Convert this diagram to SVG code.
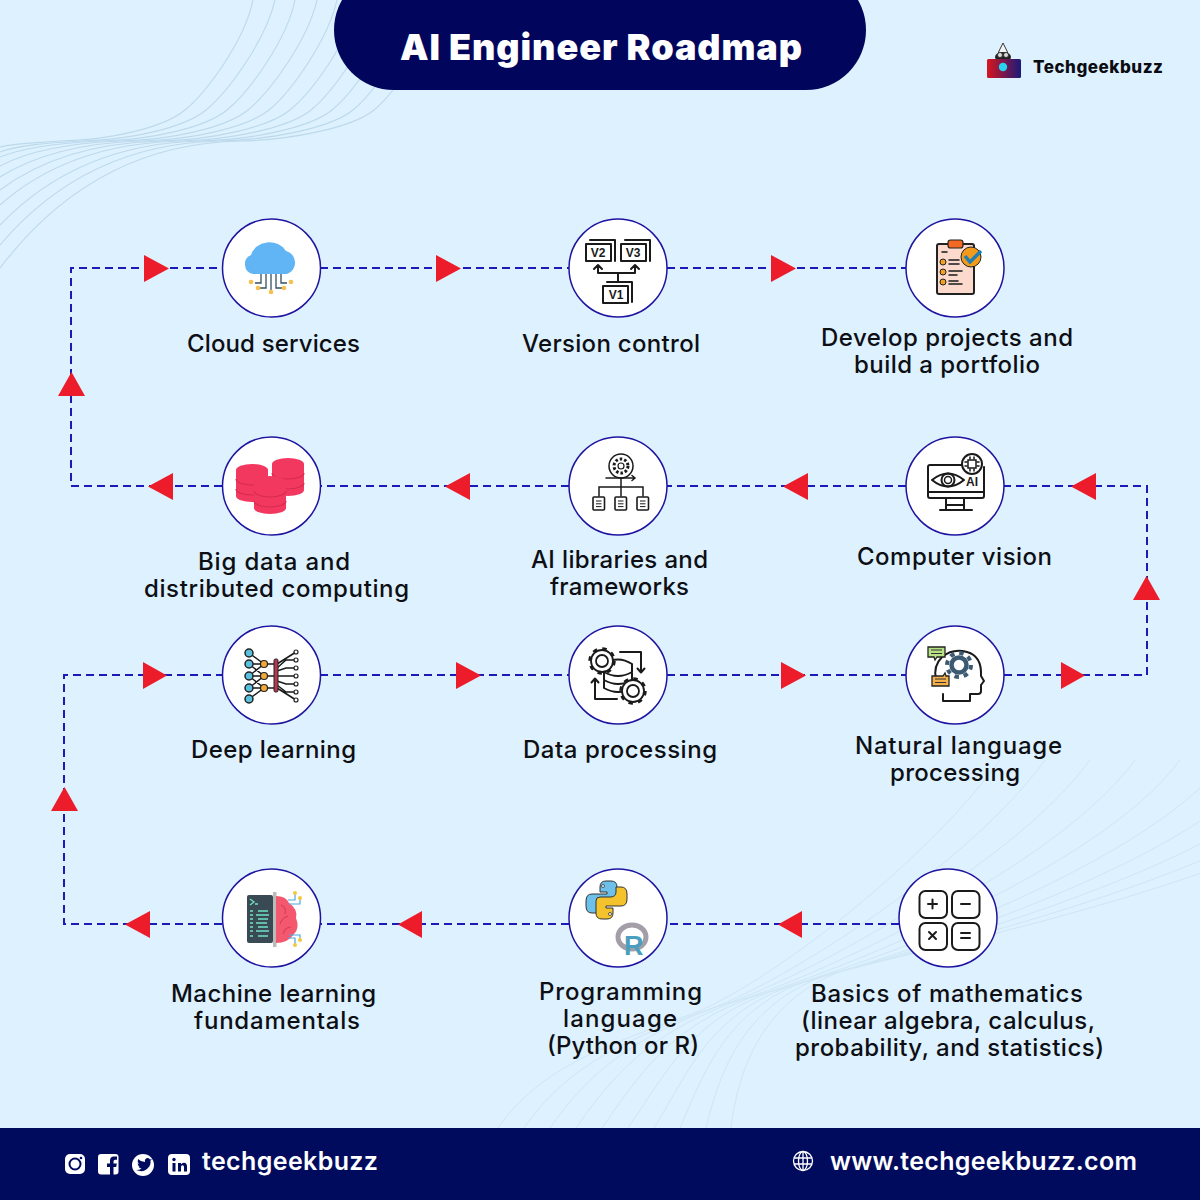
<svg xmlns="http://www.w3.org/2000/svg" width="1200" height="1200" viewBox="0 0 1200 1200">
<style>
.lbl{font-family:"Inter","Noto Sans","Liberation Sans",sans-serif;font-size:24px;font-weight:500;fill:#0d0f14}
.wave1{fill:none;stroke:#bdd9ec;stroke-width:1.1}
.wave2{fill:none;stroke:#cfe6f5;stroke-width:1}
.ring{fill:#fff;stroke:#1f14a0;stroke-width:1.500}
.edge{fill:none;stroke:#1a1ab8;stroke-width:2;stroke-dasharray:8 5}
.arr{fill:#ec1c2a}
.ink{fill:none;stroke:#1a1a1a;stroke-width:2;stroke-linecap:round;stroke-linejoin:round}
.thin{fill:none;stroke:#1a1a1a;stroke-width:1.5;stroke-linecap:round}
.ver{font-family:"Liberation Sans",sans-serif;font-size:12px;font-weight:700;fill:#1a1a1a;text-anchor:middle}
.foot{font-family:"Inter","Noto Sans",sans-serif;font-size:25px;font-weight:600;fill:#fff}
</style>
<defs>
<linearGradient id="lg" x1="0" x2="1"><stop offset="0" stop-color="#d8151f"/><stop offset="1" stop-color="#1a1a7a"/></linearGradient>
<g id="cyl"><path d="M0,6 a16,6 0 0 1 32,0 v26 a16,6 0 0 1 -32,0 z" fill="#f2385f"/><path d="M0,15 a16,6 0 0 0 32,0 M0,25 a16,6 0 0 0 32,0" fill="none" stroke="#d92a50" stroke-width="1.2"/></g>
<g id="gear"><circle r="12.500" fill="none" stroke="#1a1a1a" stroke-width="2.500" stroke-dasharray="4.500 5.300"/><circle r="11" fill="#fff" stroke="#1a1a1a" stroke-width="1.800"/><circle r="6" fill="#fff" stroke="#1a1a1a" stroke-width="1.800"/></g>
<g id="doc"><rect x="0" y="0" width="11.500" height="13" rx="1" fill="#fff" stroke="#1a1a1a" stroke-width="1.600"/><path d="M3,4 h5.500 M3,6.800 h5.500 M3,9.600 h5.500" stroke="#1a1a1a" stroke-width="1"/></g>
</defs>
<rect width="1200" height="1200" fill="#ddf1fe"/>
<g id="waves">
<path class="wave1" d="M0,147 C15,143 35,143 60,141 C110,140 163,128 185,110 S245,40 253,0"/>
<path class="wave1" d="M0,152 C20,145 46,143 80,141 C130,140 184,128 206,110 S266,40 275,0"/>
<path class="wave1" d="M0,157 C25,147 58,143 100,141 C150,140 205,128 227,110 S287,40 295,0"/>
<path class="wave1" d="M0,166 C30,150 70,143 120,141 C170,140 226,128 248,110 S308,40 317,0"/>
<path class="wave1" d="M0,177 C35,155 81,143 140,141 C190,140 247,128 269,110 S328,40 337,0"/>
<path class="wave1" d="M0,190 C40,160 93,143 160,141 C210,140 268,128 290,110 S350,40 358,0"/>
<path class="wave1" d="M0,205 C45,165 104,143 180,141 C230,140 289,128 311,110 S370,40 379,0"/>
<path class="wave1" d="M0,225 C50,173 116,143 200,141 C250,140 310,128 332,110 S390,40 400,0"/>
<path class="wave1" d="M0,245 C55,180 128,143 220,141 C270,140 331,128 353,110 S410,40 420,0"/>
<path class="wave1" d="M0,268 C60,189 139,143 240,141 C290,140 352,128 374,110 S430,40 440,0"/>
<path class="wave2" d="M498,1128 C538,1070 600,1048 680,1018 C750,998 920,870 1000,760"/>
<path class="wave2" d="M524,1128 C564,1070 618,1043 698,1013 C768,993 965,870 1045,760"/>
<path class="wave2" d="M550,1128 C590,1070 636,1037 716,1007 C786,987 1010,870 1090,760"/>
<path class="wave2" d="M576,1128 C616,1070 654,1032 734,1002 C804,982 1055,870 1135,760"/>
<path class="wave2" d="M602,1128 C642,1070 672,1027 752,997 C822,977 1100,870 1180,760"/>
<path class="wave2" d="M628,1128 C668,1070 690,1022 770,992 C840,972 1145,870 1225,760"/>
<path class="wave2" d="M654,1128 C690,1070 708,1017 788,987 C858,967 1190,870 1270,760"/>
<path class="wave2" d="M680,1128 C705,1070 726,1011 806,981 C876,961 1235,870 1315,760"/>
<path class="wave2" d="M706,1128 C720,1070 744,1006 824,976 C894,956 1280,870 1360,760"/>
<path class="wave2" d="M731,1128 C738,1070 762,1001 842,971 C912,951 1325,870 1405,760"/>
</g>
<g id="header">
<rect x="334" y="-30" width="532" height="120" rx="60" fill="#01065c"/>
<text x="400" y="60" textLength="402" font-family="Inter,'Noto Sans',sans-serif" font-size="36" font-weight="900" fill="#fff">AI Engineer Roadmap</text>
</g>
<g id="logo">
<path d="M1003,43 l4,8 l2,6 h-12 l2,-6 z" fill="#f4f4f4" stroke="#333" stroke-width="1"/>
<ellipse cx="1003" cy="57" rx="8" ry="5" fill="#222"/>
<circle cx="1000" cy="55" r="2.500" fill="#ddd" stroke="#222" stroke-width=".8"/><circle cx="1006" cy="55" r="2.500" fill="#ddd" stroke="#222" stroke-width=".8"/>
<rect x="987" y="59" width="34" height="19" rx="1.500" fill="url(#lg)"/>
<circle cx="1003" cy="67" r="4.200" fill="#27d3ee"/>
<text x="1033" y="73" textLength="130" font-family="Inter,'Noto Sans',sans-serif" font-size="17" font-weight="800" fill="#0b0b12">Techgeekbuzz</text>
</g>
<g id="connectors">
<path class="edge" d="M899,924 H667"/>
<path class="edge" d="M569,924 H320"/>
<path class="edge" d="M222,924 H64 V675 H222"/>
<path class="edge" d="M320,675 H569"/>
<path class="edge" d="M667,675 H906"/>
<path class="edge" d="M1004,675 H1147 V486 H1004"/>
<path class="edge" d="M906,486 H667"/>
<path class="edge" d="M569,486 H320"/>
<path class="edge" d="M222,486 H71 V268 H222"/>
<path class="edge" d="M320,268 H569"/>
<path class="edge" d="M667,268 H906"/>
<polygon class="arr" points="144,255 144,282 169,268.500"/>
<polygon class="arr" points="436,255 436,282 461,268.500"/>
<polygon class="arr" points="771,255 771,282 796,268.500"/>
<polygon class="arr" points="1096,473 1096,500 1071,486.500"/>
<polygon class="arr" points="808,473 808,500 783,486.500"/>
<polygon class="arr" points="470,473 470,500 445,486.500"/>
<polygon class="arr" points="173,473 173,500 148,486.500"/>
<polygon class="arr" points="58,396 85,396 71.500,372"/>
<polygon class="arr" points="1133,600 1160,600 1146.500,576"/>
<polygon class="arr" points="143,662 143,689 167,675.500"/>
<polygon class="arr" points="456,662 456,689 481,675.500"/>
<polygon class="arr" points="781,662 781,689 806,675.500"/>
<polygon class="arr" points="1061,662 1061,689 1085,675.500"/>
<polygon class="arr" points="802,911 802,938 778,924.500"/>
<polygon class="arr" points="422,911 422,938 398,924.500"/>
<polygon class="arr" points="150,911 150,938 125,924.500"/>
<polygon class="arr" points="51,811 78,811 64.500,787"/>
</g>
<g id="node-cloud">
<circle class="ring" cx="271.500" cy="268" r="49"/>
<path d="M253,274 a10,10 0 0 1 -2,-19 a19,17 0 0 1 35,-4 a12,12 0 0 1 1,23 z" fill="#62b5f5"/>
<path d="M261,274 v9 h-6 M266,274 v14 h-7 M271,274 v17 M276,274 v14 h7 M281,274 v9 h6" fill="none" stroke="#35505f" stroke-width="1.300"/>
<g fill="#f5c04f"><circle cx="251" cy="282" r="2.300"/><circle cx="258" cy="288" r="2.300"/><circle cx="271" cy="292" r="2.300"/><circle cx="284" cy="288" r="2.300"/><circle cx="291" cy="282" r="2.300"/></g>
<text class="lbl" x="187" y="352" textLength="173">Cloud services</text>
</g>
<g id="node-version">
<circle class="ring" cx="618" cy="268" r="49"/>
<path class="ink" d="M590,240 h25 v21 M586,244 h25 v17 h-25 z"/>
<path class="ink" d="M625,240 h25 v21 M621,244 h25 v17 h-25 z"/>
<path class="ink" d="M607,282 h25 v20 M603,286 h25 v17 h-25 z"/>
<text class="ver" x="598" y="257">V2</text><text class="ver" x="633" y="257">V3</text><text class="ver" x="616" y="299">V1</text>
<path class="ink" d="M618,282 v-9 M598,265 v8 h37 v-8 M594,269 l4,-4 l4,4 M631,269 l4,-4 l4,4"/>
<text class="lbl" x="522" y="352" textLength="178">Version control</text>
</g>
<g id="node-projects">
<circle class="ring" cx="955" cy="268" r="49"/>
<rect x="937" y="244" width="37" height="50" rx="2" fill="#fbd9cc" stroke="#222" stroke-width="2"/>
<rect x="948" y="240" width="15" height="8" rx="2.500" fill="#f26a21" stroke="#222" stroke-width="1.200"/>
<circle cx="971" cy="257" r="10" fill="#f29a1a" stroke="#222" stroke-width="1"/>
<path d="M965,256 l5,6 l11,-11" fill="none" stroke="#1f7fb5" stroke-width="3.500"/>
<g fill="#f2a01f" stroke="#222" stroke-width="1"><circle cx="943" cy="262" r="3"/><circle cx="943" cy="272" r="3"/><circle cx="943" cy="282" r="3"/></g>
<path class="thin" d="M942,252 h5 M949,260 h10 M949,264 h10 M949,271 h13 M949,275 h8 M949,281 h9 M949,284 h13"/>
<text class="lbl" x="821" y="346" textLength="252">Develop projects and</text>
<text class="lbl" x="854" y="373" textLength="186">build a portfolio</text>
</g>
<g id="node-vision">
<circle class="ring" cx="955" cy="486" r="49"/>
<path class="ink" d="M962,465 h-32 a2,2 0 0 0 -2,2 v29 a2,2 0 0 0 2,2 h52 a2,2 0 0 0 2,-2 v-29 M928,492 h56 M946,498 v11 M964,498 v11 M940,510 h32 M946,505 h18"/>
<path class="ink" d="M932,480 q16,-13 32,0 q-16,13 -32,0 z"/>
<circle class="ink" cx="948" cy="480" r="6.500"/><circle class="thin" cx="948" cy="480" r="3.500"/>
<circle cx="972" cy="464" r="10" fill="#fff" stroke="#1a1a1a" stroke-width="2"/>
<rect x="968" y="460" width="8" height="8" fill="none" stroke="#1a1a1a" stroke-width="1.500"/>
<path class="thin" d="M970,457 v2 M974,457 v2 M970,469 v2 M974,469 v2 M965,462 h2 M965,466 h2 M977,462 h2 M977,466 h2"/>
<text class="ver" x="972" y="486">AI</text>
<text class="lbl" x="857" y="565" textLength="195">Computer vision</text>
</g>
<g id="node-libraries">
<circle class="ring" cx="618" cy="486" r="49"/>
<circle class="thin" cx="621" cy="466" r="12"/>
<circle cx="621" cy="466" r="7" fill="#fff" stroke="#1a1a1a" stroke-width="3" stroke-dasharray="2.500 2"/>
<circle cx="621" cy="466" r="3" fill="#fff" stroke="#1a1a1a" stroke-width="1.200"/>
<path class="thin" d="M606,478 h29 M632,475.500 l3,2.500 l-3,2.500 M621,478 v18 M599,496 v-9 h44 v9"/>
<use href="#doc" x="593" y="497"/><use href="#doc" x="615" y="497"/><use href="#doc" x="637" y="497"/>
<text class="lbl" x="531" y="568" textLength="177">AI libraries and</text>
<text class="lbl" x="550" y="595" textLength="139">frameworks</text>
</g>
<g id="node-bigdata">
<circle class="ring" cx="271.500" cy="486" r="49"/>
<use href="#cyl" x="272" y="458"/>
<use href="#cyl" x="236" y="464"/>
<use href="#cyl" x="254" y="476"/>
<text class="lbl" x="198" y="570" textLength="152">Big data and</text>
<text class="lbl" x="144" y="597" textLength="265">distributed computing</text>
</g>
<g id="node-deep">
<circle class="ring" cx="271.500" cy="675" r="49"/>
<path class="thin" d="M249,653 L264,664 M249,664 L264,664 M249,676 L264,664 M249,664 L264,676 M249,676 L264,676 M249,688 L264,676 M249,676 L264,688 M249,688 L264,688 M249,699 L264,688 M264,664 H275 M264,676 H275 M264,688 H275"/>
<path class="thin" d="M277,664 L296,652 M277,668 L286,660 H296 M277,671 L286,668 H296 M277,676 H296 M277,681 L286,684 H296 M277,685 L286,692 H296 M277,688 L296,700"/>
<g fill="#5bc0de" stroke="#222" stroke-width="1.500"><circle cx="249" cy="653" r="4"/><circle cx="249" cy="664" r="4"/><circle cx="249" cy="676" r="4"/><circle cx="249" cy="688" r="4"/><circle cx="249" cy="699" r="4"/></g>
<g fill="#f2a93b" stroke="#222" stroke-width="1.200"><circle cx="264" cy="664" r="3.500"/><circle cx="264" cy="676" r="3.500"/><circle cx="264" cy="688" r="3.500"/></g>
<rect x="274" y="659" width="4" height="33" rx="1.500" fill="#b5384f" stroke="#222" stroke-width="1"/>
<g fill="#fff" stroke="#222" stroke-width="1.200"><circle cx="296" cy="652" r="2"/><circle cx="296" cy="660" r="2"/><circle cx="296" cy="668" r="2"/><circle cx="296" cy="676" r="2"/><circle cx="296" cy="684" r="2"/><circle cx="296" cy="692" r="2"/><circle cx="296" cy="700" r="2"/></g>
<text class="lbl" x="191" y="758" textLength="165">Deep learning</text>
</g>
<g id="node-data">
<circle class="ring" cx="618" cy="675" r="49"/>
<path class="ink" d="M604,664 q14,-9 28,0 v24 q-14,8 -28,0 z M604,672 q14,8 28,0 M604,680 q14,8 28,0"/>
<path class="ink" d="M620,652 h21 v20 M637.500,668.500 l3.500,4 l3.500,-4 M617,699 h-22 v-20 M591.500,682.500 l3.500,-4 l3.500,4"/>
<use href="#gear" x="602" y="661"/><use href="#gear" x="633" y="691"/>
<text class="lbl" x="523" y="758" textLength="194">Data processing</text>
</g>
<g id="node-nlp">
<circle class="ring" cx="955" cy="675" r="49"/>
<path class="ink" d="M943,701 h27 v-7 h8 q3,0 3,-3 v-6 l3,-4 l-3,-5 q1,-20 -14,-24 q-14,-4 -25,5 q-9,9 -6,22 M943,694 v7"/>
<circle cx="959" cy="665" r="12" fill="none" stroke="#3d5a73" stroke-width="4" stroke-dasharray="4.500 4.900"/>
<circle cx="959" cy="665" r="7.500" fill="none" stroke="#3d5a73" stroke-width="4.500"/>
<path d="M928,647 h17 v10 h-8 l-2,3 l-1,-3 h-6 z" fill="#b8e186" stroke="#222" stroke-width="1.300"/>
<path d="M932,676 h11 l2,-3 l1,3 h3 v10 h-17 z" fill="#f5b04b" stroke="#222" stroke-width="1.300"/>
<path d="M931,650 h11 M931,653.500 h11 M935,679 h11 M935,682.500 h11" stroke="#333" stroke-width="1"/>
<text class="lbl" x="855" y="754" textLength="207">Natural language</text>
<text class="lbl" x="890" y="781" textLength="130">processing</text>
</g>
<g id="node-ml">
<circle class="ring" cx="271.500" cy="918" r="49"/>
<rect x="247" y="895" width="26" height="48" rx="2" fill="#3a4a55"/>
<rect x="273" y="892" width="3.500" height="55" fill="#bbb"/>
<path d="M276,896 q10,0 13,7 q9,6 7,15 q4,10 -2,16 q-6,9 -18,9 z" fill="#f4586f"/>
<path d="M281,905 q6,3 4,9 M288,916 q-6,2 -8,8 M291,927 q-6,0 -8,7" fill="none" stroke="#d93f58" stroke-width="1.200"/>
<path d="M250,899 l4,3 l-4,3 M255,904 h3" fill="none" stroke="#6fe3c2" stroke-width="1.300"/>
<path d="M250,911 h3 M258,911 h10 M250,915 h3 M256,915 h13 M250,919 h3 M258,919 h10 M250,923 h3 M256,923 h11 M250,927 h3 M258,927 h10 M250,931 h3 M256,931 h13 M250,936 h3 M258,936 h10" stroke="#6fe3c2" stroke-width="1.500"/>
<path d="M288,900 h7 v-6 M289,904 h11 v-5 M289,935 h11 v4 M288,938 h7 v6" fill="none" stroke="#4da8e0" stroke-width="1.200"/>
<g fill="#f5c83b"><circle cx="295" cy="893" r="2"/><circle cx="300" cy="898" r="2"/><circle cx="300" cy="940" r="2"/><circle cx="295" cy="945" r="2"/></g>
<text class="lbl" x="171" y="1002" textLength="205">Machine learning</text>
<text class="lbl" x="194" y="1029" textLength="166">fundamentals</text>
</g>
<g id="node-language">
<circle class="ring" cx="618" cy="918" r="49"/>
<path d="M600,887 q0,-6 6,-6 h5 q6,0 6,6 v12 q0,4 -4,4 h-10 q-6,0 -6,5 v5 h-5 q-6,0 -6,-7 v-5 q0,-7 6,-7 h15 v-2 h-7 z" fill="#6cc0ea" stroke="#333" stroke-width="1"/>
<path d="M600,887 q0,-6 6,-6 h5 q6,0 6,6 v12 q0,4 -4,4 h-10 q-6,0 -6,5 v5 h-5 q-6,0 -6,-7 v-5 q0,-7 6,-7 h15 v-2 h-7 z" fill="#f3c22c" stroke="#333" stroke-width="1" transform="rotate(180 606.500 900)"/>
<circle cx="603" cy="886" r="1.500" fill="#fff" stroke="#333" stroke-width=".8"/>
<circle cx="610" cy="914" r="1.500" fill="#fff" stroke="#333" stroke-width=".8"/>
<ellipse cx="632" cy="937" rx="14" ry="12" fill="none" stroke="#a39ea8" stroke-width="5"/>
<text x="624" y="955" font-family="'Liberation Sans',sans-serif" font-size="27" font-weight="700" fill="#4a9fc0">R</text>
<text class="lbl" x="539" y="1000" textLength="163">Programming</text>
<text class="lbl" x="563" y="1027" textLength="114">language</text>
<text class="lbl" x="547" y="1054" textLength="152">(Python or R)</text>
</g>
<g id="node-math">
<circle class="ring" cx="948" cy="918" r="49"/>
<rect class="ink" x="919.500" y="891" width="27.500" height="27" rx="6"/>
<rect class="ink" x="952" y="891" width="27.500" height="27" rx="6"/>
<rect class="ink" x="919.500" y="923" width="27.500" height="27" rx="6"/>
<rect class="ink" x="952" y="923" width="27.500" height="27" rx="6"/>
<path class="ink" d="M928,904 h9 M932.500,899.500 v9 M961,904 h9 M929,932 l7,7 M936,932 l-7,7 M961,933 h9 M961,938 h9"/>
<text class="lbl" x="811" y="1002" textLength="272">Basics of mathematics</text>
<text class="lbl" x="801" y="1029" textLength="294">(linear algebra, calculus,</text>
<text class="lbl" x="795" y="1056" textLength="309">probability, and statistics)</text>
</g>
<g id="footer">
<rect y="1128" width="1200" height="72" fill="#000b5e"/>
<rect x="65" y="1154" width="20" height="20" rx="5" fill="#fff"/>
<circle cx="75" cy="1164" r="5.500" fill="none" stroke="#000b5e" stroke-width="2"/><circle cx="81" cy="1158" r="1.300" fill="#000b5e"/>
<rect x="98" y="1154" width="20.500" height="20.500" rx="3" fill="#fff"/>
<path d="M110,1175 v-8 h-3 v-3.500 h3 v-3 q0,-4 4,-4 h3 v3.300 h-2 q-1.500,0 -1.500,1.500 v2.200 h3.300 l-.6,3.500 h-2.700 v8 z" fill="#000b5e"/>
<circle cx="143" cy="1165" r="11" fill="#fff"/>
<path d="M136,1170 q8,3 12,-2 q3,-3 2.500,-7.500 l1.500,-1.500 l-2,.5 q-2,-2.500 -4.500,-.5 q-1,1 -.5,3 q-4,0 -7,-3 q-1,3 1,5 l-1.500,-.5 q.5,2.500 2.500,3 h-1.500 q1,2 3,2 q-2,1.500 -5,1.500 z" fill="#000b5e"/>
<rect x="168" y="1154" width="22" height="21" rx="4" fill="#fff"/>
<path d="M172.500,1163 h3 v8.500 h-3 z M178,1163 h3 v1.300 q1,-1.600 3,-1.600 q3,0 3,3.800 v5 h-3 v-4.600 q0,-1.700 -1.400,-1.700 q-1.600,0 -1.600,1.800 v4.500 h-3 z" fill="#000b5e"/><circle cx="174" cy="1159.500" r="1.700" fill="#000b5e"/>
<text class="foot" x="202" y="1170" textLength="176">techgeekbuzz</text>
<g fill="none" stroke="#fff" stroke-width="1.300"><circle cx="803" cy="1161" r="9.500"/><ellipse cx="803" cy="1161" rx="4.500" ry="9.500"/><path d="M794,1158 h18 M794,1164 h18 M803,1151.500 v19"/></g>
<text class="foot" x="830" y="1170" textLength="307">www.techgeekbuzz.com</text>
</g>
</svg>
